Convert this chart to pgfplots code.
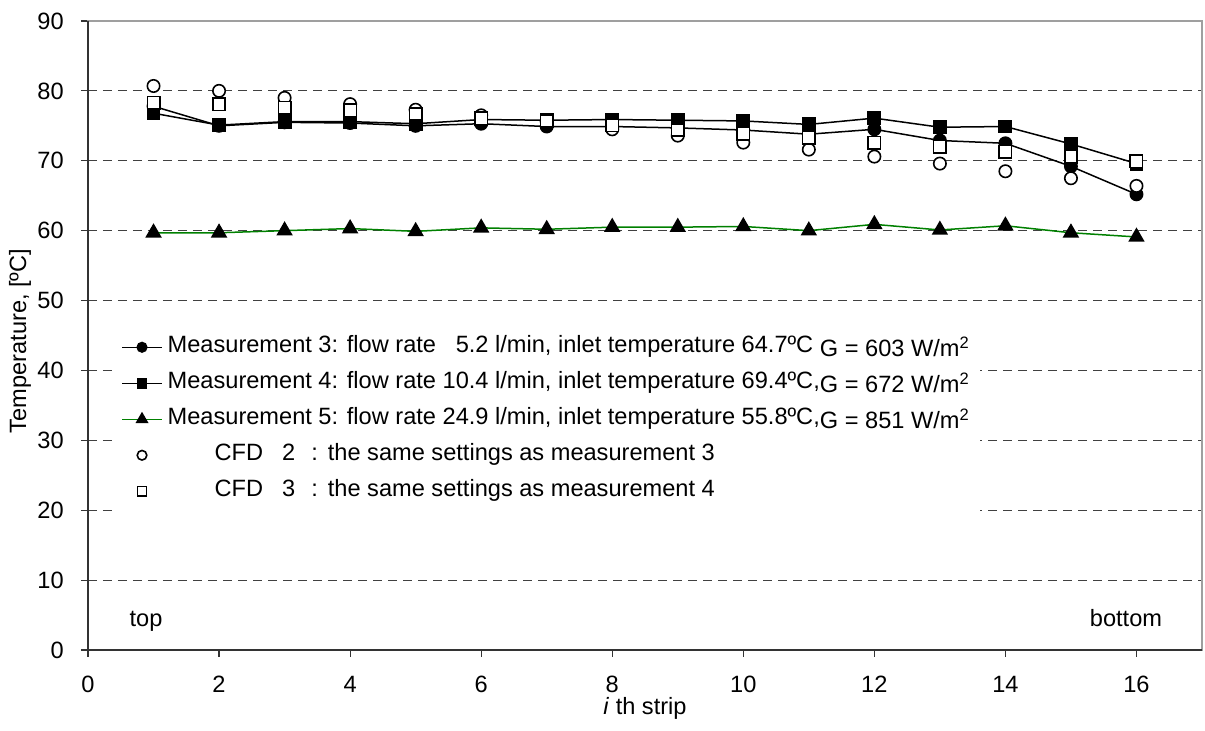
\documentclass[border=0pt]{standalone}
\usepackage{fontspec}
\setmainfont{Liberation Sans}
\usepackage{pgfplots}
\pgfplotsset{compat=1.18}
\definecolor{mgreen}{RGB}{0,128,0}

\pgfplotstableread{
x m3 m4 m5 c2 c3
1 77.8 76.8 59.7 80.7 78.3
2 75.0 75.1 59.7 80.0 78.1
3 75.5 75.6 60.0 79.0 77.6
4 75.4 75.6 60.3 78.1 77.2
5 75.0 75.3 59.9 77.3 76.7
6 75.3 75.9 60.4 76.5 76.1
7 74.9 75.8 60.2 75.6 75.7
8 74.9 75.9 60.5 74.5 75.1
9 74.7 75.8 60.5 73.6 74.4
10 74.4 75.7 60.6 72.6 73.9
11 73.8 75.2 60.0 71.6 73.3
12 74.5 76.1 60.9 70.6 72.6
13 72.9 74.8 60.1 69.6 72.0
14 72.5 74.9 60.7 68.5 71.3
15 69.2 72.4 59.7 67.5 70.6
16 65.2 69.6 59.1 66.4 69.9
}\datatable

\begin{document}
\fontsize{11.8}{14.2}\selectfont
\begin{tikzpicture}
\begin{axis}[
  scale only axis, width=557pt, height=314.5pt,
  xmin=0, xmax=17, ymin=0, ymax=90,
  xtick={0,2,...,16}, ytick={0,10,...,90},
  tick align=outside, major tick length=3.5pt,
  xtick pos=left, ytick pos=left,
  axis line style={gray!75, line width=0.6pt},
  tick style={black!80, line width=0.6pt},
  ymajorgrids, grid style={black!75, line width=0.5pt, dash pattern=on 4.5pt off 3pt},
  /pgf/number format/assume math mode=true,
  ticklabel style={font=\fontsize{11.8}{14.2}\selectfont},
  yticklabel style={xshift=-4.5pt},
  xticklabel style={anchor=base, yshift=-18pt},
  ylabel={Temperature, [ºC]},
  xlabel={\textit{i} th strip},
  ylabel style={at={(axis description cs:-0.061,0.491)}, anchor=center, font=\fontsize{11.8}{14.2}\selectfont},
  xlabel style={at={(axis description cs:0.5,-0.1033)}, anchor=base, font=\fontsize{11.8}{14.2}\selectfont},
  clip=false,
  legend cell align=left,
  legend style={at={(axis description cs:0.0224,0.518)}, anchor=north west,
    draw=none, fill=white, inner sep=4pt, row sep=3.3pt, column sep=1.5pt,
    font=\fontsize{11.8}{14.2}\selectfont,
    nodes={inner sep=1pt, text height=9.2pt, text depth=3.5pt}},
  legend image code/.code={\draw[mark repeat=2,mark phase=2,#1] plot coordinates {(0cm,0cm) (0.35cm,0cm) (0.7cm,0cm)};},
]
\addplot[black, line width=0.75pt, mark=*, mark size=3.1pt, mark options={solid, fill=black},
  legend image post style={mark size=2.4pt}] table[x=x, y=m3] {\datatable};
\addlegendentry{Measurement 3: flow rate \hphantom{1}5.2 l/min, inlet temperature 64.7ºC \raisebox{-2pt}{G = 603 W/m\textsuperscript{2}}}
\addplot[black, line width=0.75pt, mark=square*, mark size=3.1pt, mark options={solid, fill=black},
  legend image post style={mark size=2.3pt}] table[x=x, y=m4] {\datatable};
\addlegendentry{Measurement 4: flow rate 10.4 l/min, inlet temperature 69.4ºC,\raisebox{-2pt}{G = 672 W/m\textsuperscript{2}}}
\addplot[mgreen, line width=0.75pt, mark=triangle*, mark size=4pt, mark options={solid, fill=black, draw=black},
  legend image post style={mark size=3pt}] table[x=x, y=m5] {\datatable};
\addlegendentry{Measurement 5: flow rate 24.9 l/min, inlet temperature 55.8ºC,\raisebox{-2pt}{G = 851 W/m\textsuperscript{2}}}
\addplot[only marks, black, mark=*, mark size=3.1pt, mark options={line width=0.8pt, draw=black, fill=white},
  legend image post style={mark size=2.4pt}] table[x=x, y=c2] {\datatable};
\addlegendentry{\hspace*{23.5pt}CFD\hspace{9.5pt}2\hspace{8pt}:\hspace{5pt}the same settings as measurement 3}
\addplot[only marks, black, mark=square*, mark size=3.1pt, mark options={line width=0.8pt, draw=black, fill=white},
  legend image post style={mark size=2.3pt}] table[x=x, y=c3] {\datatable};
\addlegendentry{\hspace*{23.5pt}CFD\hspace{9.5pt}3\hspace{8pt}:\hspace{5pt}the same settings as measurement 4}
\draw[black!80, line width=0.6pt] (rel axis cs:0,1) -- (rel axis cs:0,0) -- (rel axis cs:1,0);
\node[anchor=base] at (axis cs:0.885,3.4) {top};
\node[anchor=base] at (axis cs:15.84,3.4) {bottom};
\end{axis}
\pgfresetboundingbox
\path[use as bounding box] (-44pt,-40.5pt) rectangle (558.5pt,325pt);
\end{tikzpicture}
\end{document}
